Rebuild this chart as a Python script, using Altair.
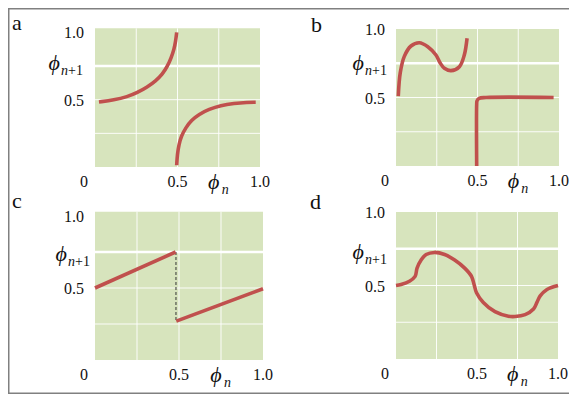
import altair as alt
import pandas as pd

FONT = "Liberation Serif"
GREEN = "#d7e4bd"
RED = "#c0504d"
INK = "#111111"

# ---------------- data ----------------
tick_x_vals = [0.5, 1.0]
tick_x_text = ["0.5", "1.0"]
tick_x0_vals = [0.0]
tick_x0_text = ["0"]
tick_y_vals = [1.0, 0.5]
tick_y_text = ["1.0", "0.5"]
grid_v = [0.25, 0.5, 0.75]
grid_h_thin = [0.25, 0.5]
grid_h_thick = [0.75]
panel_letters = ["a", "b", "c", "d"]

# panel a
a_up_x = [0.024, 0.115, 0.196, 0.256, 0.317, 0.368, 0.408, 0.438, 0.462, 0.479, 0.489, 0.495]
a_up_y = [0.483, 0.498, 0.522, 0.552, 0.594, 0.639, 0.689, 0.745, 0.812, 0.874, 0.936, 1.0]
a_lo_x = [0.495, 0.499, 0.509, 0.523, 0.550, 0.584, 0.630, 0.691, 0.762, 0.842, 0.923, 0.974]
a_lo_y = [0.013, 0.094, 0.169, 0.230, 0.292, 0.347, 0.392, 0.429, 0.458, 0.473, 0.481, 0.481]

# panel b
b_left_x = [0.014, 0.026, 0.051, 0.092, 0.143, 0.195, 0.245, 0.272, 0.297, 0.337, 0.389, 0.419, 0.436]
b_left_y = [0.51, 0.68, 0.80, 0.876, 0.90, 0.871, 0.81, 0.75, 0.713, 0.696, 0.725, 0.81, 0.932]
b_right_x = [0.495, 0.495, 0.497, 0.509, 0.552, 0.967]
b_right_y = [0.0, 0.45, 0.475, 0.493, 0.50, 0.50]

# panel c
c_up_x = [0.0, 0.48]
c_up_y = [0.5, 0.75]
c_lo_x = [0.484, 1.0]
c_lo_y = [0.27, 0.495]
c_dash_x = [0.482, 0.482]
c_dash_y = [0.75, 0.27]

# panel d
d_x = [0.0, 0.031, 0.083, 0.118, 0.130, 0.155, 0.186, 0.238, 0.300, 0.362, 0.424, 0.466,
       0.482, 0.497, 0.539, 0.611, 0.694, 0.735, 0.797, 0.849, 0.870, 0.890, 0.932, 1.0]
d_y = [0.5, 0.507, 0.529, 0.562, 0.618, 0.673, 0.711, 0.725, 0.711, 0.673, 0.618, 0.562,
       0.507, 0.451, 0.385, 0.322, 0.291, 0.289, 0.302, 0.340, 0.385, 0.429, 0.473, 0.5]


def segs(*pairs):
    rows = []
    for s, (xs, ys) in enumerate(pairs):
        for i, (x, y) in enumerate(zip(xs, ys)):
            rows.append({"x": x, "y": y, "seg": s, "ord": i})
    return pd.DataFrame(rows)


# view coordinates (page minus 5 px, padding -3 on left/top)
panels = [
    dict(letter="a", xr=[90, 255], yr=[162, 27.4], top=1.03, ldx=-83, ldy=-2, pdx=-35, pdy=4,
         curves=[(segs((a_up_x, a_up_y), (a_lo_x, a_lo_y)), "basis")], dash=None),
    dict(letter="b", xr=[391, 554], yr=[161, 24], top=1.0, ldx=-85, ldy=3, pdx=-32, pdy=7,
         curves=[(segs((b_left_x, b_left_y)), "catmull-rom"),
                 (segs((b_right_x, b_right_y)), "catmull-rom")], dash=None),
    dict(letter="c", xr=[90, 258], yr=[355, 211], top=1.03, ldx=-83, ldy=-8, pdx=-28, pdy=9,
         curves=[(segs((c_up_x, c_up_y), (c_lo_x, c_lo_y)), "linear")],
         dash=segs((c_dash_x, c_dash_y))),
    dict(letter="d", xr=[391, 553], yr=[354, 207], top=1.0, ldx=-86, ldy=-3, pdx=-32, pdy=10,
         curves=[(segs((d_x, d_y)), "catmull-rom")], dash=None),
]


def make_panel(p):
    xs = alt.Scale(domain=[0, 1], range=p["xr"])
    ys = alt.Scale(domain=[0, 1], range=p["yr"])

    def X(f):
        return alt.X(f, type="quantitative", scale=xs, axis=None)

    def Y(f):
        return alt.Y(f, type="quantitative", scale=ys, axis=None)

    bg = alt.Chart(pd.DataFrame({"x0": [0.0], "x1": [1.0], "y0": [0.0], "y1": [p["top"]]})).mark_rect(
        color=GREEN).encode(x=X("x0"), x2="x1", y=Y("y0"), y2="y1")

    gv = alt.Chart(pd.DataFrame({"g": grid_v, "lo": 0.0, "hi": p["top"]})).mark_rule(
        color="white", strokeWidth=1, opacity=0.9).encode(x=X("g"), y=Y("lo"), y2="hi")
    gh = alt.Chart(pd.DataFrame({"g": grid_h_thin, "lo": 0.0, "hi": 1.0})).mark_rule(
        color="white", strokeWidth=1, opacity=0.9).encode(y=Y("g"), x=X("lo"), x2="hi")
    gt = alt.Chart(pd.DataFrame({"g": grid_h_thick, "lo": 0.0, "hi": 1.0})).mark_rule(
        color="white", strokeWidth=2.5).encode(y=Y("g"), x=X("lo"), x2="hi")

    layers = [bg, gv, gh, gt]

    if p["dash"] is not None:
        layers.append(alt.Chart(p["dash"]).mark_line(
            color="#333333", strokeWidth=1, strokeDash=[3, 2]).encode(
            x=X("x"), y=Y("y"), detail="seg:N", order="ord:Q"))

    for df, interp in p["curves"]:
        layers.append(alt.Chart(df).mark_line(
            color=RED, strokeWidth=3.6, interpolate=interp).encode(
            x=X("x"), y=Y("y"), detail="seg:N", order="ord:Q"))

    txt = dict(font=FONT, fontSize=16, color=INK)
    # x tick labels
    layers.append(alt.Chart(pd.DataFrame({"v": tick_x_vals, "t": tick_x_text, "b": 0.0})).mark_text(
        align="center", baseline="alphabetic", dy=20, **txt).encode(x=X("v"), y=Y("b"), text="t:N"))
    layers.append(alt.Chart(pd.DataFrame({"v": tick_x0_vals, "t": tick_x0_text, "b": 0.0})).mark_text(
        align="center", baseline="alphabetic", dx=-11, dy=20, **txt).encode(x=X("v"), y=Y("b"), text="t:N"))
    # y tick labels
    layers.append(alt.Chart(pd.DataFrame({"v": tick_y_vals, "t": tick_y_text, "b": 0.0})).mark_text(
        align="right", baseline="middle", dx=-11, dy=1, **txt).encode(x=X("b"), y=Y("v"), text="t:N"))
    # phi_{n+1}
    layers.append(alt.Chart(pd.DataFrame({"x": [0.0], "y": [0.75], "t": ["ϕ"]})).mark_text(
        align="right", baseline="alphabetic", dx=p["pdx"], dy=p["pdy"], font=FONT, fontSize=22,
        fontStyle="italic", color=INK).encode(x=X("x"), y=Y("y"), text="t:N"))
    layers.append(alt.Chart(pd.DataFrame({"x": [0.0], "y": [0.75], "t": ["n"]})).mark_text(
        align="left", baseline="alphabetic", dx=p["pdx"] + 1, dy=p["pdy"] + 5, font=FONT, fontSize=14,
        fontStyle="italic", color=INK).encode(x=X("x"), y=Y("y"), text="t:N"))
    layers.append(alt.Chart(pd.DataFrame({"x": [0.0], "y": [0.75], "t": ["+1"]})).mark_text(
        align="left", baseline="alphabetic", dx=p["pdx"] + 8, dy=p["pdy"] + 5, font=FONT, fontSize=14,
        color=INK).encode(x=X("x"), y=Y("y"), text="t:N"))
    # phi_n
    layers.append(alt.Chart(pd.DataFrame({"x": [0.72], "y": [0.0], "t": ["ϕ"]})).mark_text(
        align="center", baseline="alphabetic", dy=22, font=FONT, fontSize=22,
        fontStyle="italic", color=INK).encode(x=X("x"), y=Y("y"), text="t:N"))
    layers.append(alt.Chart(pd.DataFrame({"x": [0.72], "y": [0.0], "t": ["n"]})).mark_text(
        align="left", baseline="alphabetic", dx=8, dy=27, font=FONT, fontSize=14,
        fontStyle="italic", color=INK).encode(x=X("x"), y=Y("y"), text="t:N"))
    # panel letter
    layers.append(alt.Chart(pd.DataFrame({"x": [0.0], "y": [1.0], "t": [p["letter"]]})).mark_text(
        align="left", baseline="alphabetic", dx=p["ldx"], dy=p["ldy"], font=FONT, fontSize=22,
        color=INK).encode(x=X("x"), y=Y("y"), text="t:N"))

    return alt.layer(*layers)


W, H = 564, 389
one = pd.DataFrame({"k": [0]})
border = [
    alt.Chart(one).mark_rule(color="#808080", strokeWidth=1.5).encode(
        x=alt.value(3.75), y=alt.value(3), y2=alt.value(H)),
    alt.Chart(one).mark_rule(color="#808080", strokeWidth=1.5).encode(
        x=alt.value(3), x2=alt.value(W), y=alt.value(3.75)),
    alt.Chart(one).mark_rule(color="#808080", strokeWidth=1.5).encode(
        x=alt.value(3), x2=alt.value(W), y=alt.value(H - 0.75)),
]

chart = alt.layer(*[make_panel(p) for p in panels], *border).resolve_scale(
    x="independent", y="independent"
).properties(
    width=W, height=H,
    padding={"left": -3, "top": -3, "right": 0, "bottom": 0},
    autosize=alt.AutoSizeParams(type="none")
).configure_view(stroke=None)

chart.save("out.html", embed_options={"renderer": "svg", "actions": False})
